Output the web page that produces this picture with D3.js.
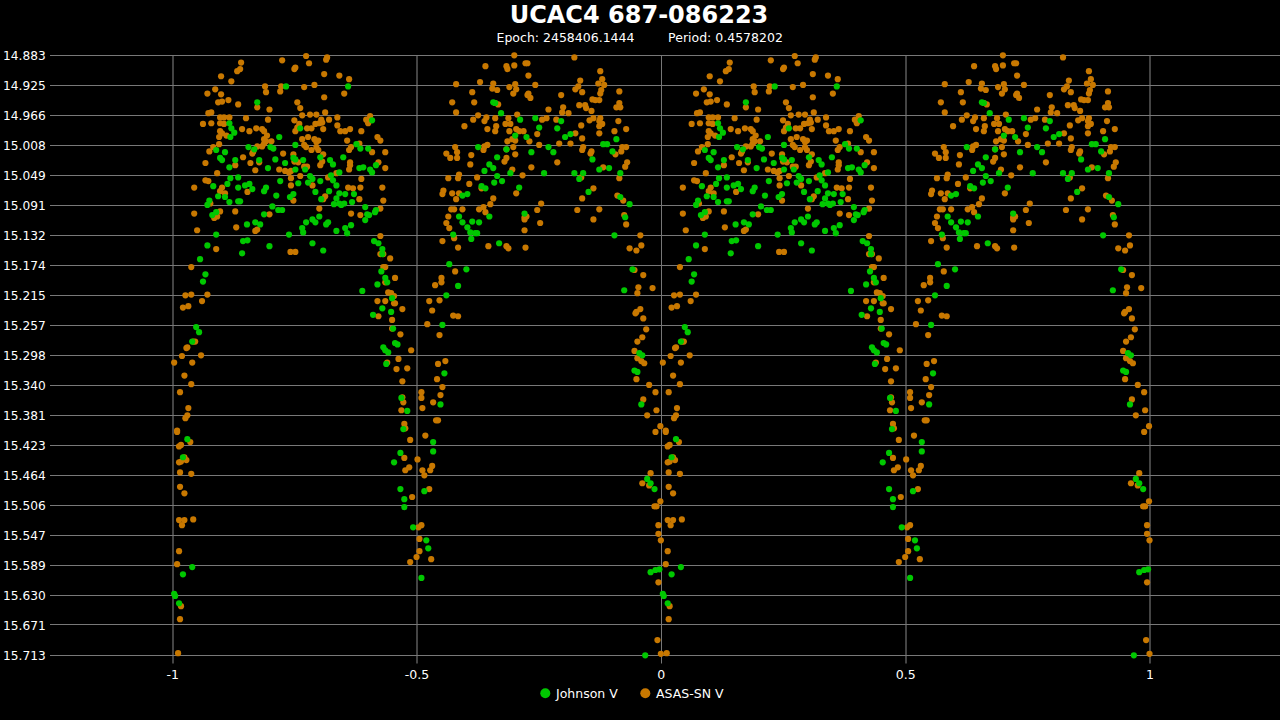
<!DOCTYPE html>
<html><head><meta charset="utf-8">
<script src="https://cdn.jsdelivr.net/npm/d3@7"></script>
<style>html,body{margin:0;padding:0;background:#000;}svg{display:block;}</style>
</head><body>
<svg id="chart" width="1280" height="720"></svg>
<script>
const titleText = "UCAC4 687-086223";
const epochText = "Epoch: 2458406.1444";
const periodText = "Period: 0.4578202";
const xTicks = [-1, -0.5, 0, 0.5, 1];
const yTicks = [14.883,14.925,14.966,15.008,15.049,15.091,15.132,15.174,15.215,15.257,15.298,15.340,15.381,15.423,15.464,15.506,15.547,15.589,15.630,15.671,15.713];
const phaseCopies = [0, -1];
const seriesNames = ["Johnson V", "ASAS-SN V"];
const seriesColors = ["#00c800", "#c87800"];

const asassnV = [
[0.038,15.176],[0.026,15.215],[0.038,15.214],[0.071,15.214],[0.060,15.223],[0.021,15.232],[0.032,15.230],[0.028,15.288],[0.030,15.287],[0.042,15.279],[0.046,15.279],[0.019,15.299],[0.058,15.298],[0.003,15.308],[0.040,15.308],[0.024,15.326],[0.038,15.338],[0.015,15.349],[0.032,15.371],[0.030,15.381],[0.026,15.385],[0.009,15.402],[0.009,15.404],[0.036,15.418],[0.013,15.424],[0.017,15.422],[0.024,15.439],[0.028,15.443],[0.013,15.446],[0.017,15.445],[0.015,15.460],[0.038,15.462],[0.015,15.480],[0.024,15.489],[0.013,15.526],[0.024,15.526],[0.019,15.533],[0.042,15.525],[0.013,15.569],[0.009,15.587],[0.017,15.645],[0.015,15.663],[0.011,15.710],
[0.445,15.164],[0.431,15.176],[0.435,15.176],[0.455,15.191],[0.435,15.197],[0.441,15.211],[0.447,15.212],[0.453,15.216],[0.419,15.223],[0.435,15.223],[0.453,15.226],[0.455,15.226],[0.470,15.234],[0.421,15.244],[0.449,15.249],[0.449,15.261],[0.466,15.269],[0.488,15.291],[0.462,15.303],[0.439,15.308],[0.458,15.317],[0.480,15.316],[0.470,15.334],[0.470,15.356],[0.472,15.363],[0.468,15.374],[0.474,15.393],[0.476,15.399],[0.486,15.415],[0.474,15.440],[0.501,15.442],[0.484,15.453],[0.476,15.457],[0.490,15.494],[0.503,15.536],[0.509,15.533],[0.505,15.552],[0.505,15.569],[0.499,15.577],[0.486,15.584],
[0.578,15.182],[0.550,15.191],[0.550,15.197],[0.537,15.201],[0.525,15.223],[0.546,15.222],[0.531,15.236],[0.574,15.243],[0.584,15.244],[0.521,15.255],[0.546,15.270],[0.543,15.310],[0.558,15.306],[0.541,15.331],[0.552,15.342],[0.509,15.349],[0.509,15.357],[0.548,15.353],[0.533,15.363],[0.511,15.371],[0.539,15.388],[0.543,15.388],[0.517,15.409],[0.511,15.457],[0.515,15.464],[0.527,15.457],[0.531,15.451],[0.525,15.483],[0.529,15.580],
[0.945,15.180],[0.963,15.187],[0.953,15.204],[0.982,15.205],[0.951,15.212],[0.947,15.240],[0.949,15.238],[0.957,15.234],[0.963,15.247],[0.969,15.262],[0.961,15.273],[0.951,15.279],[0.945,15.292],[0.951,15.302],[0.959,15.306],[0.965,15.309],[0.949,15.331],[0.975,15.339],[0.988,15.349],[0.963,15.359],[0.990,15.374],[0.971,15.381],[0.998,15.396],[0.988,15.404],[0.978,15.461],[0.961,15.475],[0.975,15.478],[0.998,15.500],[0.986,15.507],[0.990,15.507],[0.994,15.533],[0.994,15.545],[0.999,15.554],[0.994,15.612],[0.992,15.692],[0.999,15.711],
[0.140,14.893],[0.224,14.890],[0.273,14.884],[0.316,14.886],[0.314,14.889],[0.279,14.894],[0.251,14.900],[0.249,14.902],[0.138,14.902],[0.132,14.905],[0.099,14.912],[0.120,14.919],[0.310,14.909],[0.341,14.911],[0.361,14.916],[0.189,14.926],[0.191,14.934],[0.222,14.926],[0.220,14.933],[0.269,14.927],[0.290,14.924],[0.087,14.930],[0.071,14.936],[0.099,14.937],[0.351,14.936],[0.310,14.941],[0.093,14.948],[0.101,14.947],[0.114,14.945],[0.134,14.951],[0.173,14.955],[0.255,14.948],[0.261,14.956],[0.198,14.958],[0.073,14.963],[0.079,14.962],[0.265,14.966],[0.281,14.965],[0.294,14.965],[0.312,14.962],[0.097,14.969],[0.105,14.969],[0.116,14.969],[0.150,14.970],[0.195,14.972],[0.249,14.973],[0.304,14.972],[0.306,14.976],[0.300,14.977],[0.320,14.972],[0.337,14.969],[0.404,14.967],[0.396,14.972],[0.400,14.977],[0.062,14.978],[0.079,14.977],[0.097,14.977],[0.105,14.978],[0.259,14.978],[0.255,14.983],[0.292,14.978],[0.337,14.980],[0.142,14.985],[0.157,14.988],[0.171,14.984],[0.183,14.985],[0.187,14.988],[0.097,14.988],[0.101,14.991],[0.251,14.988],[0.275,14.984],[0.284,14.984],[0.308,14.985],[0.343,14.988],[0.353,14.988],[0.363,14.985],[0.386,14.988],[0.110,14.994],[0.095,14.996],[0.193,14.994],[0.187,14.999],[0.191,15.002],[0.265,14.999],[0.290,14.999],[0.298,15.001],[0.294,15.003],[0.277,14.996],[0.357,15.001],[0.419,14.996],[0.425,15.001],[0.095,15.006],[0.083,15.010],[0.173,15.009],[0.183,15.009],[0.187,15.005],[0.202,15.002],[0.269,15.007],[0.273,15.010],[0.284,15.014],[0.294,15.010],[0.298,15.014],[0.365,15.010],[0.361,15.014],[0.382,15.005],[0.075,15.016],[0.144,15.024],[0.163,15.019],[0.165,15.016],[0.226,15.019],[0.247,15.020],[0.308,15.020],[0.306,15.030],[0.302,15.035],[0.408,15.017],[0.435,15.017],[0.067,15.032],[0.128,15.035],[0.159,15.032],[0.177,15.031],[0.249,15.030],[0.257,15.031],[0.269,15.037],[0.275,15.037],[0.363,15.031],[0.363,15.035],[0.421,15.031],[0.091,15.046],[0.169,15.042],[0.218,15.041],[0.230,15.043],[0.238,15.045],[0.242,15.043],[0.361,15.041],[0.435,15.039],[0.261,15.050],[0.242,15.053],[0.318,15.052],[0.335,15.046],[0.386,15.054],[0.067,15.056],[0.073,15.057],[0.044,15.066],[0.101,15.066],[0.097,15.071],[0.107,15.074],[0.153,15.072],[0.242,15.063],[0.286,15.063],[0.359,15.066],[0.369,15.067],[0.384,15.066],[0.429,15.066],[0.077,15.088],[0.247,15.084],[0.308,15.082],[0.312,15.078],[0.382,15.082],[0.431,15.084],[0.044,15.102],[0.128,15.099],[0.300,15.095],[0.365,15.102],[0.425,15.095],[0.085,15.108],[0.091,15.106],[0.097,15.099],[0.198,15.103],[0.384,15.104],[0.130,15.121],[0.173,15.124],[0.169,15.126],[0.050,15.125],[0.089,15.151],[0.241,15.155],[0.251,15.155],[0.425,15.133],[0.425,15.158],[0.431,15.158],
[0.699,14.883],[0.822,14.886],[0.640,14.898],[0.683,14.898],[0.685,14.902],[0.699,14.897],[0.722,14.894],[0.726,14.894],[0.728,14.911],[0.875,14.905],[0.879,14.916],[0.834,14.918],[0.871,14.922],[0.883,14.924],[0.580,14.923],[0.629,14.920],[0.656,14.922],[0.654,14.929],[0.664,14.931],[0.689,14.927],[0.701,14.923],[0.703,14.930],[0.697,14.936],[0.742,14.924],[0.830,14.926],[0.824,14.930],[0.838,14.934],[0.877,14.931],[0.875,14.936],[0.914,14.933],[0.613,14.934],[0.728,14.936],[0.732,14.942],[0.726,14.938],[0.795,14.938],[0.859,14.944],[0.865,14.945],[0.873,14.945],[0.572,14.948],[0.617,14.948],[0.660,14.949],[0.666,14.951],[0.914,14.949],[0.908,14.955],[0.916,14.955],[0.844,14.952],[0.846,14.956],[0.832,14.952],[0.580,14.962],[0.799,14.955],[0.797,14.962],[0.810,14.963],[0.857,14.960],[0.769,14.958],[0.625,14.966],[0.642,14.969],[0.638,14.974],[0.660,14.970],[0.687,14.970],[0.705,14.965],[0.756,14.972],[0.765,14.970],[0.785,14.972],[0.615,14.972],[0.853,14.973],[0.861,14.970],[0.875,14.970],[0.873,14.974],[0.879,14.978],[0.873,14.981],[0.912,14.974],[0.597,14.981],[0.681,14.978],[0.691,14.978],[0.662,14.981],[0.660,14.988],[0.644,14.985],[0.689,14.988],[0.703,14.985],[0.709,14.988],[0.718,14.988],[0.836,14.980],[0.824,14.991],[0.873,14.991],[0.904,14.988],[0.928,14.985],[0.746,14.992],[0.695,14.999],[0.701,15.001],[0.685,15.002],[0.730,15.002],[0.838,14.998],[0.791,15.005],[0.814,15.005],[0.750,15.007],[0.578,15.010],[0.638,15.009],[0.644,15.007],[0.636,15.014],[0.683,15.013],[0.697,15.010],[0.840,15.010],[0.838,15.014],[0.920,15.010],[0.928,15.010],[0.918,15.016],[0.560,15.019],[0.582,15.017],[0.582,15.025],[0.568,15.025],[0.611,15.021],[0.701,15.020],[0.857,15.016],[0.855,15.019],[0.906,15.020],[0.679,15.030],[0.683,15.025],[0.787,15.031],[0.930,15.031],[0.926,15.037],[0.609,15.034],[0.734,15.038],[0.881,15.038],[0.586,15.048],[0.584,15.053],[0.564,15.053],[0.623,15.052],[0.695,15.041],[0.716,15.049],[0.836,15.052],[0.914,15.053],[0.607,15.061],[0.554,15.070],[0.552,15.075],[0.572,15.074],[0.586,15.074],[0.632,15.067],[0.703,15.074],[0.861,15.067],[0.910,15.077],[0.838,15.081],[0.656,15.081],[0.580,15.082],[0.922,15.084],[0.650,15.089],[0.754,15.088],[0.570,15.096],[0.576,15.096],[0.593,15.096],[0.627,15.096],[0.636,15.093],[0.640,15.100],[0.746,15.097],[0.828,15.097],[0.873,15.096],[0.924,15.104],[0.564,15.106],[0.560,15.115],[0.720,15.107],[0.724,15.106],[0.720,15.110],[0.861,15.110],[0.928,15.117],[0.752,15.115],[0.566,15.122],[0.720,15.125],[0.576,15.136],[0.957,15.132],[0.552,15.140],[0.584,15.149],[0.646,15.147],[0.683,15.147],[0.687,15.150],[0.722,15.149],[0.935,15.150],[0.949,15.153],[0.959,15.146]
];

const johnsonV = [
[0.067,15.186],[0.062,15.196],[0.048,15.259],[0.054,15.266],[0.040,15.279],[0.030,15.414],[0.021,15.439],[0.040,15.591],[0.021,15.601],[0.003,15.628],[0.005,15.631],[0.013,15.641],
[0.427,15.182],[0.435,15.191],[0.439,15.197],[0.419,15.200],[0.388,15.209],[0.449,15.219],[0.429,15.233],[0.447,15.238],[0.410,15.242],[0.451,15.261],[0.431,15.287],[0.435,15.291],[0.441,15.294],[0.455,15.281],[0.460,15.283],[0.437,15.310],[0.468,15.357],[0.480,15.375],[0.472,15.400],[0.466,15.433],[0.453,15.446],[0.466,15.483],[0.474,15.497],[0.474,15.508],[0.492,15.536],[0.509,15.606],
[0.566,15.172],[0.601,15.179],[0.584,15.202],[0.560,15.215],[0.552,15.256],[0.556,15.323],[0.548,15.366],[0.533,15.418],[0.533,15.431],[0.515,15.486],[0.519,15.554],[0.523,15.565],
[0.941,15.179],[0.924,15.208],[0.955,15.295],[0.961,15.298],[0.945,15.319],[0.951,15.321],[0.959,15.366],[0.971,15.469],[0.978,15.475],[0.986,15.483],[0.978,15.598],[0.988,15.595],[0.996,15.594],[0.967,15.713],
[0.232,14.926],[0.359,14.926],[0.173,14.948],[0.408,14.973],[0.116,14.977],[0.120,14.984],[0.126,14.990],[0.118,14.996],[0.261,14.984],[0.218,14.996],[0.155,15.010],[0.167,15.013],[0.200,15.010],[0.206,15.012],[0.251,15.007],[0.089,15.014],[0.107,15.017],[0.376,15.006],[0.384,15.012],[0.400,15.012],[0.097,15.025],[0.101,15.028],[0.128,15.028],[0.177,15.028],[0.210,15.027],[0.247,15.025],[0.251,15.027],[0.267,15.028],[0.302,15.024],[0.322,15.028],[0.328,15.034],[0.349,15.024],[0.116,15.038],[0.195,15.039],[0.230,15.032],[0.251,15.041],[0.271,15.041],[0.382,15.039],[0.390,15.038],[0.404,15.041],[0.408,15.045],[0.416,15.035],[0.118,15.053],[0.134,15.052],[0.220,15.057],[0.281,15.050],[0.286,15.054],[0.277,15.059],[0.302,15.057],[0.324,15.049],[0.328,15.056],[0.341,15.045],[0.112,15.061],[0.083,15.064],[0.134,15.066],[0.148,15.063],[0.157,15.061],[0.163,15.068],[0.187,15.071],[0.191,15.066],[0.212,15.077],[0.240,15.079],[0.247,15.075],[0.257,15.060],[0.292,15.072],[0.304,15.082],[0.320,15.071],[0.335,15.063],[0.341,15.074],[0.353,15.075],[0.371,15.075],[0.093,15.078],[0.107,15.079],[0.075,15.084],[0.071,15.090],[0.116,15.086],[0.134,15.085],[0.138,15.085],[0.335,15.081],[0.341,15.088],[0.330,15.089],[0.345,15.090],[0.351,15.088],[0.367,15.086],[0.394,15.093],[0.204,15.092],[0.216,15.097],[0.224,15.097],[0.081,15.104],[0.089,15.100],[0.187,15.103],[0.300,15.106],[0.286,15.110],[0.292,15.114],[0.273,15.114],[0.318,15.114],[0.314,15.117],[0.398,15.103],[0.402,15.104],[0.414,15.100],[0.416,15.097],[0.394,15.111],[0.152,15.117],[0.169,15.114],[0.179,15.117],[0.265,15.122],[0.267,15.128],[0.335,15.126],[0.353,15.122],[0.357,15.129],[0.365,15.118],[0.089,15.131],[0.238,15.131],[0.071,15.146],[0.144,15.140],[0.153,15.139],[0.198,15.147],[0.286,15.143],[0.308,15.153],[0.142,15.157],[0.412,15.140],[0.421,15.143],[0.429,15.151],[0.429,15.158],[0.056,15.165],
[0.656,14.948],[0.660,14.949],[0.672,14.963],[0.711,14.972],[0.742,14.970],[0.795,14.974],[0.750,14.983],[0.787,14.984],[0.701,14.994],[0.724,14.996],[0.803,14.996],[0.814,14.992],[0.908,14.999],[0.881,15.006],[0.889,15.006],[0.625,15.010],[0.769,15.010],[0.734,15.017],[0.779,15.017],[0.900,15.016],[0.683,15.013],[0.664,15.024],[0.859,15.027],[0.648,15.034],[0.656,15.039],[0.638,15.043],[0.691,15.046],[0.760,15.046],[0.873,15.041],[0.893,15.039],[0.664,15.050],[0.658,15.059],[0.674,15.057],[0.822,15.046],[0.840,15.046],[0.916,15.046],[0.832,15.054],[0.632,15.064],[0.640,15.067],[0.709,15.066],[0.593,15.077],[0.603,15.075],[0.851,15.072],[0.916,15.079],[0.935,15.089],[0.720,15.102],[0.586,15.106],[0.648,15.106],[0.593,15.114],[0.613,15.113],[0.627,15.114],[0.603,15.121],[0.926,15.107],[0.609,15.128],[0.619,15.129],[0.623,15.129],[0.574,15.131],[0.611,15.137],[0.668,15.143],[0.904,15.132]
];

const svg = d3.select("#chart");
const W = 1280, H = 720;
svg.append("rect").attr("width", W).attr("height", H).attr("fill", "#000");

const x = d3.scaleLinear().domain([-1, 1]).range([172.7, 1150]);
const y = d3.scaleLinear().domain([14.883, 15.713]).range([55.3, 655.3]);
const plotLeft = 50, plotRight = 1280;
const crisp = v => Math.floor(v) + 0.5;
const yTop = crisp(y(yTicks[0]));
const yBottom = crisp(y(yTicks[yTicks.length - 1])) + 8;

// vertical grid lines with tick extension
svg.append("g").selectAll("line").data(xTicks).join("line")
  .attr("x1", d => d === 0 ? crisp(x(d)) : Math.round(x(d)))
  .attr("x2", d => d === 0 ? crisp(x(d)) : Math.round(x(d)))
  .attr("y1", yTop).attr("y2", yBottom)
  .attr("stroke", d => d === 0 ? "#777" : "#444")
  .attr("stroke-width", d => d === 0 ? 1 : 2);

// horizontal grid lines
svg.append("g").selectAll("line").data(yTicks).join("line")
  .attr("x1", plotLeft).attr("x2", plotRight)
  .attr("y1", d => crisp(y(d))).attr("y2", d => crisp(y(d)))
  .attr("stroke", "#787878").attr("stroke-width", 1);

// y labels
svg.append("g").selectAll("text").data(yTicks).join("text")
  .attr("x", 3).attr("y", d => y(d) + 4.6)
  .attr("fill", "#fff").attr("font-family", "DejaVu Sans, Verdana, sans-serif").attr("font-size", 12.2)
  .text(d => d3.format(".3f")(d));

// x labels
svg.append("g").selectAll("text").data(xTicks).join("text")
  .attr("x", d => x(d)).attr("y", 679.3).attr("text-anchor", "middle")
  .attr("fill", "#fff").attr("font-family", "DejaVu Sans, Verdana, sans-serif").attr("font-size", 12.5)
  .text(d => String(d));

// points: each phase is shown at phase and phase-1
function drawSeries(data, color) {
  const pts = [];
  data.forEach(([p, m]) => phaseCopies.forEach(o => pts.push([p + o, m])));
  svg.append("g").selectAll("circle").data(pts).join("circle")
    .attr("cx", d => x(d[0])).attr("cy", d => y(d[1])).attr("r", 3.1)
    .attr("fill", color);
}
drawSeries(asassnV, seriesColors[1]);
drawSeries(johnsonV, seriesColors[0]);

// title
svg.append("text").attr("x", 639).attr("y", 23).attr("text-anchor", "middle")
  .attr("fill", "#fff").attr("font-family", "DejaVu Sans, Verdana, sans-serif")
  .attr("font-weight", "bold").attr("font-size", 24).text(titleText);
svg.append("text").attr("x", 565.5).attr("y", 41.7).attr("text-anchor", "middle")
  .attr("fill", "#fff").attr("font-family", "DejaVu Sans, Verdana, sans-serif")
  .attr("font-size", 12.5).text(epochText);
svg.append("text").attr("x", 725.5).attr("y", 41.7).attr("text-anchor", "middle")
  .attr("fill", "#fff").attr("font-family", "DejaVu Sans, Verdana, sans-serif")
  .attr("font-size", 12.5).text(periodText);

// legend
const legendX = [545.3, 645.3];
const lg = svg.append("g").selectAll("g").data(seriesNames).join("g");
lg.append("circle").attr("cx", (d, i) => legendX[i]).attr("cy", 693.3).attr("r", 5)
  .attr("fill", (d, i) => seriesColors[i]);
lg.append("text").attr("x", (d, i) => legendX[i] + 10.7).attr("y", 697.7)
  .attr("fill", "#fff").attr("font-family", "DejaVu Sans, Verdana, sans-serif")
  .attr("font-size", 12.5).text(d => d);
</script>
</body></html>
